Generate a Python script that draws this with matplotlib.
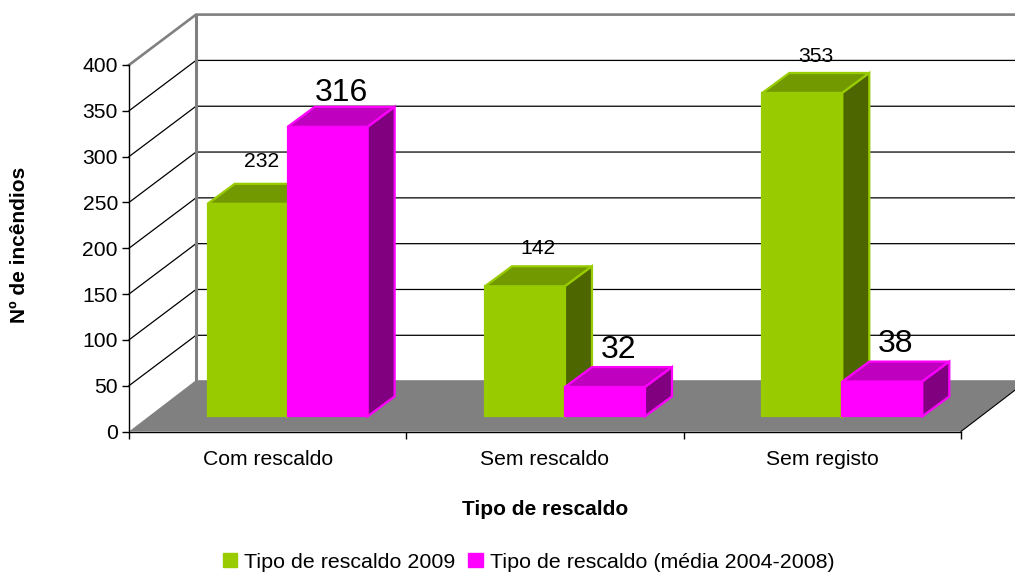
import matplotlib
matplotlib.use("Agg")
import matplotlib.pyplot as plt
from matplotlib.patches import Patch, Polygon
from matplotlib.ticker import FixedLocator, NullFormatter

plt.rcParams['font.family'] = ['Liberation Sans', 'DejaVu Sans']

categories = ['Com rescaldo', 'Sem rescaldo', 'Sem registo']
series_2009 = [232, 142, 353]
series_media = [316, 32, 38]
series_names = ['Tipo de rescaldo 2009', 'Tipo de rescaldo (média 2004-2008)']
y_ticks = [0, 50, 100, 150, 200, 250, 300, 350, 400]

# label lift above the bar top, in points
label_lift_2009 = [16, 12.5, 12]
label_lift_media = [10, 12.5, 12.5]

# oblique "3d" look, in data units
WALL_DX, WALL_DY = 0.2416, 56
BAR_DX, BAR_DY = 0.0974, 21.8
BAR_BASE = 16.5
BAR_START, BAR_W = 0.2835, 0.2885

GRAY = '#808080'


def draw_bar(ax, x, value, front, top, side, z):
    y0, y1 = BAR_BASE, BAR_BASE + value
    faces = [
        ([(x, y0), (x + BAR_W, y0), (x + BAR_W, y1), (x, y1)], front),
        ([(x, y1), (x + BAR_W, y1), (x + BAR_W + BAR_DX, y1 + BAR_DY), (x + BAR_DX, y1 + BAR_DY)], top),
        ([(x + BAR_W, y0), (x + BAR_W + BAR_DX, y0 + BAR_DY), (x + BAR_W + BAR_DX, y1 + BAR_DY), (x + BAR_W, y1)], side),
    ]
    for pts, col in faces:
        ax.add_patch(Polygon(pts, closed=True, facecolor=col, edgecolor=front, lw=1.6,
                             joinstyle='miter', clip_on=False, zorder=z))


fig = plt.figure(figsize=(10.15, 5.72), dpi=100)
ax = fig.add_axes([129 / 1015, (572 - 431.5) / 572, 832 / 1015, 366.5 / 572])
ax.set_xlim(0, len(categories))
ax.set_ylim(0, 400)
ax.patch.set_visible(False)
for s in ['top', 'right']:
    ax.spines[s].set_visible(False)
for s in ['left', 'bottom']:
    ax.spines[s].set_linewidth(1.0)
    ax.spines[s].set_zorder(3)

# walls and floor
n = len(categories)
ax.add_patch(Polygon([(0, 0), (n, 0), (n + WALL_DX, WALL_DY), (WALL_DX, WALL_DY)], closed=True,
                     facecolor=GRAY, edgecolor='none', clip_on=False, zorder=1))
ax.plot([n, n + WALL_DX], [0, WALL_DY], color='black', lw=0.8, clip_on=False, zorder=1.5)
for v in y_ticks[1:-1]:
    ax.plot([0, WALL_DX, n + WALL_DX], [v, v + 55, v + 55], color='black', lw=0.9,
            clip_on=False, zorder=0.5)
ax.plot([0, WALL_DX, n + WALL_DX], [400, 400 + 55, 400 + 55], color=GRAY, lw=1.9,
        clip_on=False, zorder=0.6)
ax.plot([WALL_DX, WALL_DX], [WALL_DY, 400 + 55], color=GRAY, lw=2.2, clip_on=False, zorder=0.7)

# bars and value labels
for i in range(n):
    x_a = i + BAR_START
    x_b = x_a + BAR_W
    draw_bar(ax, x_a, series_2009[i], '#99CC00', '#739900', '#4D6600', 2 + i)
    draw_bar(ax, x_b, series_media[i], '#FF00FF', '#BF00BF', '#800080', 2.5 + i)
    ax.annotate(str(series_2009[i]), (x_a + (BAR_W + BAR_DX) / 2, BAR_BASE + series_2009[i] + BAR_DY),
                xytext=(0, label_lift_2009[i]), textcoords='offset points', ha='center', va='center',
                fontsize=15.2, annotation_clip=False, zorder=8)
    ax.annotate(str(series_media[i]), (x_b + (BAR_W + BAR_DX) / 2, BAR_BASE + series_media[i] + BAR_DY),
                xytext=(0, label_lift_media[i]), textcoords='offset points', ha='center', va='center',
                fontsize=23, annotation_clip=False, zorder=8)

ax.set_yticks(y_ticks)
ax.set_xticks(range(n + 1))
ax.xaxis.set_major_formatter(NullFormatter())
ax.xaxis.set_minor_locator(FixedLocator([i + 0.5 for i in range(n)]))
ax.set_xticklabels(categories, minor=True)
ax.tick_params(axis='x', which='minor', length=0, pad=13, labelsize=15.2)
ax.tick_params(axis='x', which='major', length=5, width=1)
ax.tick_params(axis='y', length=5, width=1, pad=3, labelsize=15.2)

ax.set_xlabel('Tipo de rescaldo', fontsize=15, fontweight='bold', va='center')
ax.xaxis.set_label_coords(0.5, -0.2135)
ax.set_ylabel('Nº de incêndios', fontsize=15, fontweight='bold', va='center')
ax.yaxis.set_label_coords(-0.1315, 0.509)

handles = [Patch(facecolor='#99CC00', edgecolor='#99CC00', label=series_names[0]),
           Patch(facecolor='#FF00FF', edgecolor='#FF00FF', label=series_names[1])]
fig.legend(handles=handles, ncol=2, loc='center', bbox_to_anchor=(528.5 / 1015, (572 - 562) / 572),
           frameon=False, fontsize=15.4, handlelength=0.67, handleheight=0.67,
           handletextpad=0.33, columnspacing=0.62, borderpad=0, borderaxespad=0)

fig.savefig('out.png', dpi=100)
